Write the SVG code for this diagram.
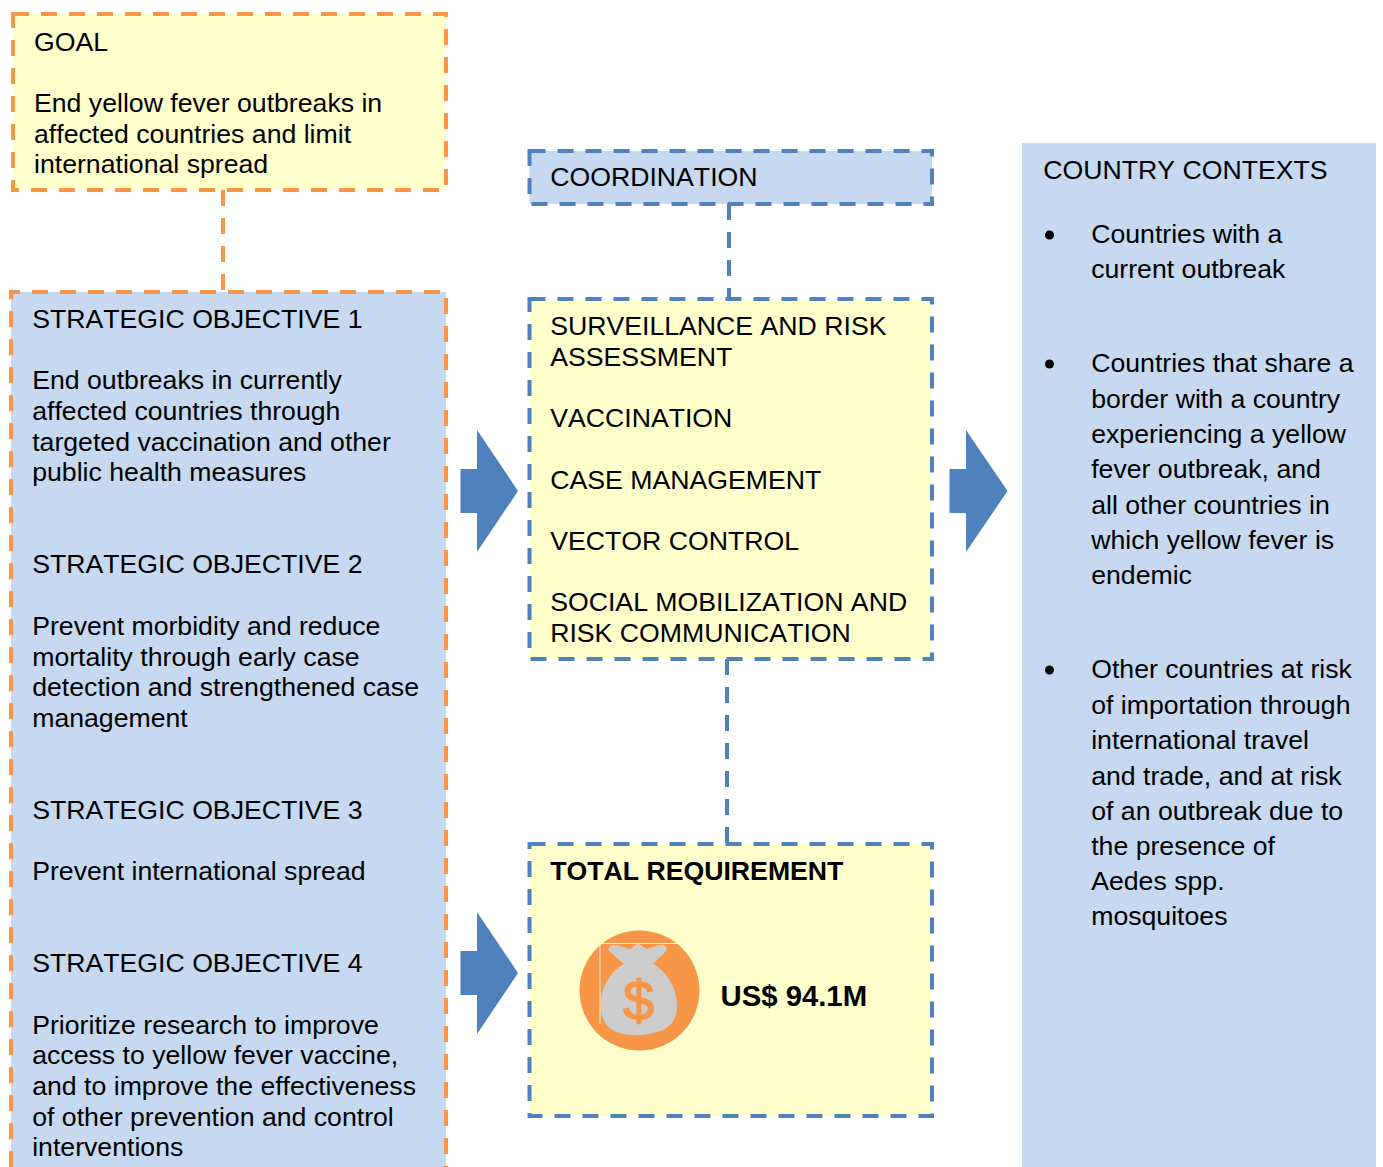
<svg xmlns="http://www.w3.org/2000/svg" width="1383" height="1167" viewBox="0 0 1383 1167">
<style>
text{font-family:"Liberation Sans",Arial,sans-serif;font-size:26.67px;fill:#000;font-kerning:none}
.b{font-weight:bold}
.yo{fill:#ffffcc;stroke:#f79646;stroke-width:4;stroke-dasharray:16 12}
.bo{fill:#c6d9f1;stroke:#f79646;stroke-width:4;stroke-dasharray:16 12}
.yb{fill:#ffffcc;stroke:#4f81bd;stroke-width:4;stroke-dasharray:16 12}
.bb{fill:#c6d9f1;stroke:#4f81bd;stroke-width:4;stroke-dasharray:16 12}
.co{fill:none;stroke:#f79646;stroke-width:4;stroke-dasharray:16 12}
.cb{fill:none;stroke:#4f81bd;stroke-width:4;stroke-dasharray:16 12}
.ar{fill:#4f81bd}
</style>
<rect width="1383" height="1167" fill="#ffffff"/>
<g id="context">
<rect x="1022" y="143" width="354" height="1024" fill="#c6d9f1"/>
<text x="1043.200" y="179">COUNTRY CONTEXTS</text>
<circle cx="1049.500" cy="235" r="4.500"/>
<text x="1091.200" y="243">Countries with a</text>
<text x="1091.200" y="278">current outbreak</text>
<circle cx="1049.500" cy="364" r="4.500"/>
<text x="1091.200" y="372">Countries that share a</text>
<text x="1091.200" y="408">border with a country</text>
<text x="1091.200" y="443">experiencing a yellow</text>
<text x="1091.200" y="478">fever outbreak, and</text>
<text x="1091.200" y="514">all other countries in</text>
<text x="1091.200" y="549">which yellow fever is</text>
<text x="1091.200" y="584">endemic</text>
<circle cx="1049.500" cy="670" r="4.500"/>
<text x="1091.200" y="678">Other countries at risk</text>
<text x="1091.200" y="714">of importation through</text>
<text x="1091.200" y="749">international travel</text>
<text x="1091.200" y="785">and trade, and at risk</text>
<text x="1091.200" y="820">of an outbreak due to</text>
<text x="1091.200" y="855">the presence of</text>
<text x="1091.200" y="890">Aedes spp.</text>
<text x="1091.200" y="925">mosquitoes</text>
</g>
<g id="connectors">
<path class="co" d="M223 190V292"/>
<path class="cb" d="M729 204V299"/>
<path class="cb" d="M727 659V844"/>
<path class="ar" d="M460.500 469H477V430L518 491L477 552V513H460.500Z"/>
<path class="ar" d="M949.500 469H966V430L1007.500 491L966 552V513H949.500Z"/>
<path class="ar" d="M460.500 951H477V912L518 973L477 1034V995H460.500Z"/>
</g>
<g id="goal">
<rect class="yo" x="13" y="14" width="433" height="176"/>
<text x="34" y="51">GOAL</text>
<text x="34" y="112">End yellow fever outbreaks in</text>
<text x="34" y="143">affected countries and limit</text>
<text x="34" y="173">international spread</text>
</g>
<g id="objectives">
<path fill="#c6d9f1" d="M11 292H446V1167H11Z"/>
<path class="co" d="M11 1167V292H446V1167"/>
<text x="32.200" y="328">STRATEGIC OBJECTIVE 1</text>
<text x="32.200" y="389">End outbreaks in currently</text>
<text x="32.200" y="420">affected countries through</text>
<text x="32.200" y="451">targeted vaccination and other</text>
<text x="32.200" y="481">public health measures</text>
<text x="32.200" y="573">STRATEGIC OBJECTIVE 2</text>
<text x="32.200" y="635">Prevent morbidity and reduce</text>
<text x="32.200" y="666">mortality through early case</text>
<text x="32.200" y="696">detection and strengthened case</text>
<text x="32.200" y="727">management</text>
<text x="32.200" y="819">STRATEGIC OBJECTIVE 3</text>
<text x="32.200" y="880">Prevent international spread</text>
<text x="32.200" y="972">STRATEGIC OBJECTIVE 4</text>
<text x="32.200" y="1034">Prioritize research to improve</text>
<text x="32.200" y="1064">access to yellow fever vaccine,</text>
<text x="32.200" y="1095">and to improve the effectiveness</text>
<text x="32.200" y="1126">of other prevention and control</text>
<text x="32.200" y="1156">interventions</text>
</g>
<g id="coordination">
<rect class="bb" x="529.500" y="151" width="402.500" height="53"/>
<text x="550.200" y="186">COORDINATION</text>
</g>
<g id="activities">
<rect class="yb" x="529.500" y="299" width="402.500" height="360"/>
<text x="550.200" y="335">SURVEILLANCE AND RISK</text>
<text x="550.200" y="366">ASSESSMENT</text>
<text x="550.200" y="427">VACCINATION</text>
<text x="550.200" y="489">CASE MANAGEMENT</text>
<text x="550.200" y="550">VECTOR CONTROL</text>
<text x="550.200" y="611">SOCIAL MOBILIZATION AND</text>
<text x="550.200" y="642">RISK COMMUNICATION</text>
</g>
<g id="requirement">
<rect class="yb" x="529.500" y="844" width="402.500" height="272"/>
<text class="b" x="550.200" y="880">TOTAL REQUIREMENT</text>
<circle cx="639.500" cy="990.500" r="60" fill="#f79646"/>
<path d="M600 943.500H680M600 943.500V1024" fill="none" stroke="#fff" stroke-width="1" opacity=".85"/>
<path fill="#cccccc" d="M610 946C616 943 624 948 630 949C633 948 635 944 638 944C641 944 644 948 647 949C652 948 660 943 666 946L667 950L653 964C668 972 678 990 677 1008C676 1024 666 1033 640 1035C615 1036 603 1028 601 1010C599 990 609 972 624 964L608 950Z"/>
<text x="638.500" y="1020" text-anchor="middle" style="font-size:56px;fill:#f79646;stroke:#f79646;stroke-width:1.500">$</text>
<text class="b" x="720.500" y="1006" style="font-size:29.300px">US$ 94.1M</text>
</g>
</svg>
